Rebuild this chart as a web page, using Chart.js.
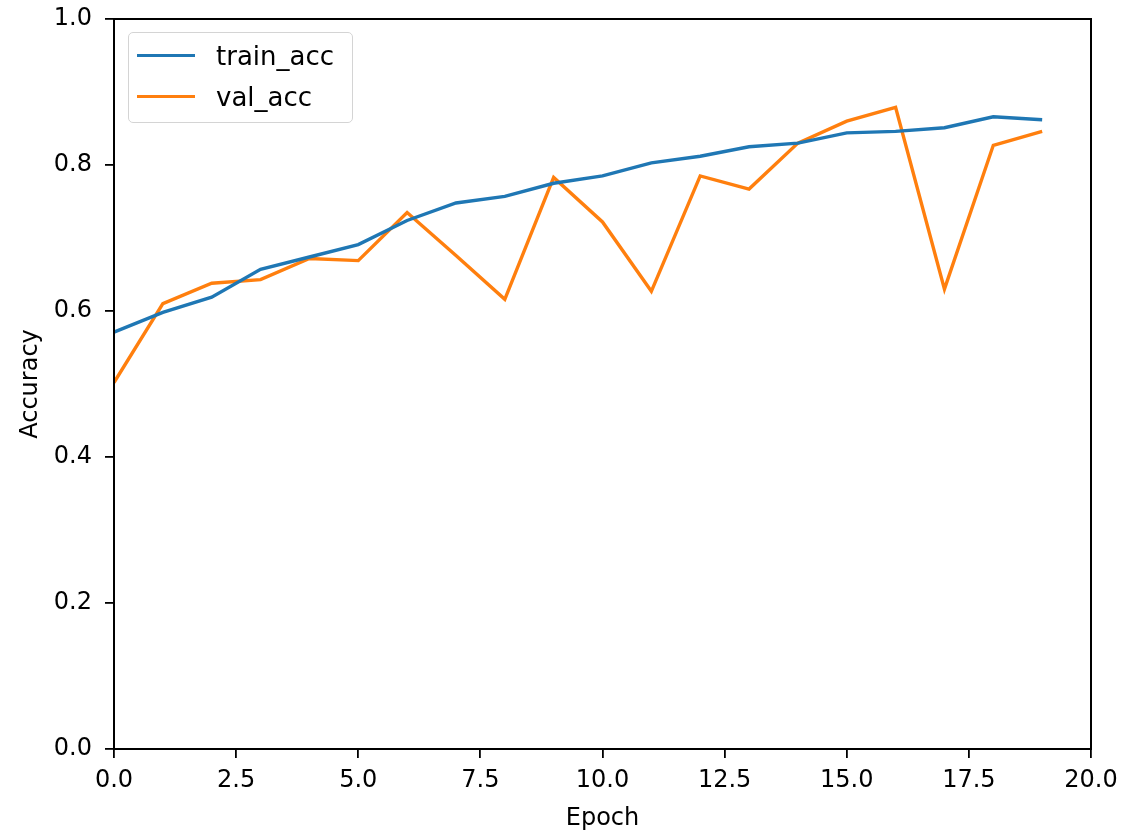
<!DOCTYPE html>
<html>
<head>
<meta charset="utf-8">
<script src="https://cdn.jsdelivr.net/npm/chart.js@4.4.1/dist/chart.umd.min.js"></script>
<style>
    html, body { margin: 0; padding: 0; background: #fff; }
    #wrap { position: relative; width: 1129px; height: 838px; }
    #legend {
        position: absolute;
        box-sizing: border-box;
        width: 225px;
        font-family: "DejaVu Sans", sans-serif;
        font-size: 26px;
        color: #000;
        background: rgba(255,255,255,0.8);
        border: 1.5px solid #d4d4d4;
        border-radius: 5px;
        padding: 2px 0 5px 8px;
    }
    #legend .row { display: flex; align-items: center; height: 41px; }
    #legend .swatch { width: 58px; height: 3.4px; margin-right: 21px; }
</style>
</head>
<body>
<div id="wrap">
    <canvas id="accChart" width="1129" height="838"></canvas>
    <div id="legend"></div>
</div>
<script>
const epochs = [0, 1, 2, 3, 4, 5, 6, 7, 8, 9, 10, 11, 12, 13, 14, 15, 16, 17, 18, 19];
const trainAcc = [0.571, 0.598, 0.619, 0.657, 0.674, 0.691, 0.724, 0.748, 0.757, 0.775,
                  0.785, 0.803, 0.812, 0.825, 0.830, 0.844, 0.846, 0.851, 0.866, 0.862];
const valAcc = [0.502, 0.610, 0.638, 0.643, 0.672, 0.669, 0.735, 0.676, 0.616, 0.783,
                0.722, 0.627, 0.785, 0.767, 0.830, 0.860, 0.879, 0.630, 0.827, 0.846];
const xTicks = [0, 2.5, 5, 7.5, 10, 12.5, 15, 17.5, 20];
const yTicks = [0, 0.2, 0.4, 0.6, 0.8, 1.0];

const font = { family: "DejaVu Sans", size: 24 };

// box around the plot, like matplotlib spines
const frame = {
    id: "frame",
    afterDraw(chart) {
        const { ctx, chartArea: a } = chart;
        ctx.save();
        ctx.strokeStyle = "#000";
        ctx.lineWidth = 2;
        ctx.strokeRect(a.left, a.top, a.right - a.left, a.bottom - a.top);
        ctx.restore();
    },
};

// legend inside the plot, upper left
const htmlLegend = {
    id: "htmlLegend",
    afterRender(chart) {
        const el = document.getElementById("legend");
        const a = chart.chartArea;
        el.style.left = (a.left + 14) + "px";
        el.style.top = (a.top + 13) + "px";
        el.innerHTML = chart.data.datasets.map(ds =>
            `<div class="row"><span class="swatch" style="background:${ds.borderColor}"></span>${ds.label}</div>`
        ).join("");
    },
};

new Chart(document.getElementById("accChart"), {
    type: "line",
    data: {
        datasets: [
            {
                label: "train_acc",
                data: epochs.map((e, i) => ({ x: e, y: trainAcc[i] })),
                borderColor: "#1f77b4",
                borderWidth: 3.4,
                pointRadius: 0,
                tension: 0,
            },
            {
                label: "val_acc",
                data: epochs.map((e, i) => ({ x: e, y: valAcc[i] })),
                borderColor: "#ff7f0e",
                borderWidth: 3.4,
                pointRadius: 0,
                tension: 0,
            },
        ],
    },
    options: {
        responsive: false,
        animation: false,
        layout: { padding: { top: 19, right: 38, left: 0, bottom: 0 } },
        plugins: {
            legend: { display: false },
            tooltip: { enabled: false },
        },
        scales: {
            x: {
                type: "linear",
                min: 0,
                max: 20,
                afterBuildTicks: s => { s.ticks = xTicks.map(v => ({ value: v })); },
                afterFit: s => { s.height = 89; s.paddingLeft = 0; s.paddingRight = 0; },
                grid: { drawOnChartArea: false, drawTicks: true, tickLength: 9, color: "#000", lineWidth: 1.8 },
                border: { display: true, color: "#000", width: 2 },
                ticks: { color: "#000", font, padding: 8, maxRotation: 0, callback: v => v.toFixed(1) },
                title: { display: true, text: "Epoch", color: "#000", font, padding: { top: 0, bottom: 5 } },
            },
            y: {
                min: 0,
                max: 1,
                afterBuildTicks: s => { s.ticks = yTicks.map(v => ({ value: v })); },
                afterFit: s => { s.width = 114; s.paddingTop = 0; s.paddingBottom = 0; },
                grid: { drawOnChartArea: false, drawTicks: true, tickLength: 9, color: "#000", lineWidth: 1.8 },
                border: { display: true, color: "#000", width: 2 },
                ticks: { color: "#000", font, padding: 13, callback: v => v.toFixed(1) },
                title: { display: true, text: "Accuracy", color: "#000", font, padding: { top: 16, bottom: 0 } },
            },
        },
    },
    plugins: [frame, htmlLegend],
});
</script>
</body>
</html>
